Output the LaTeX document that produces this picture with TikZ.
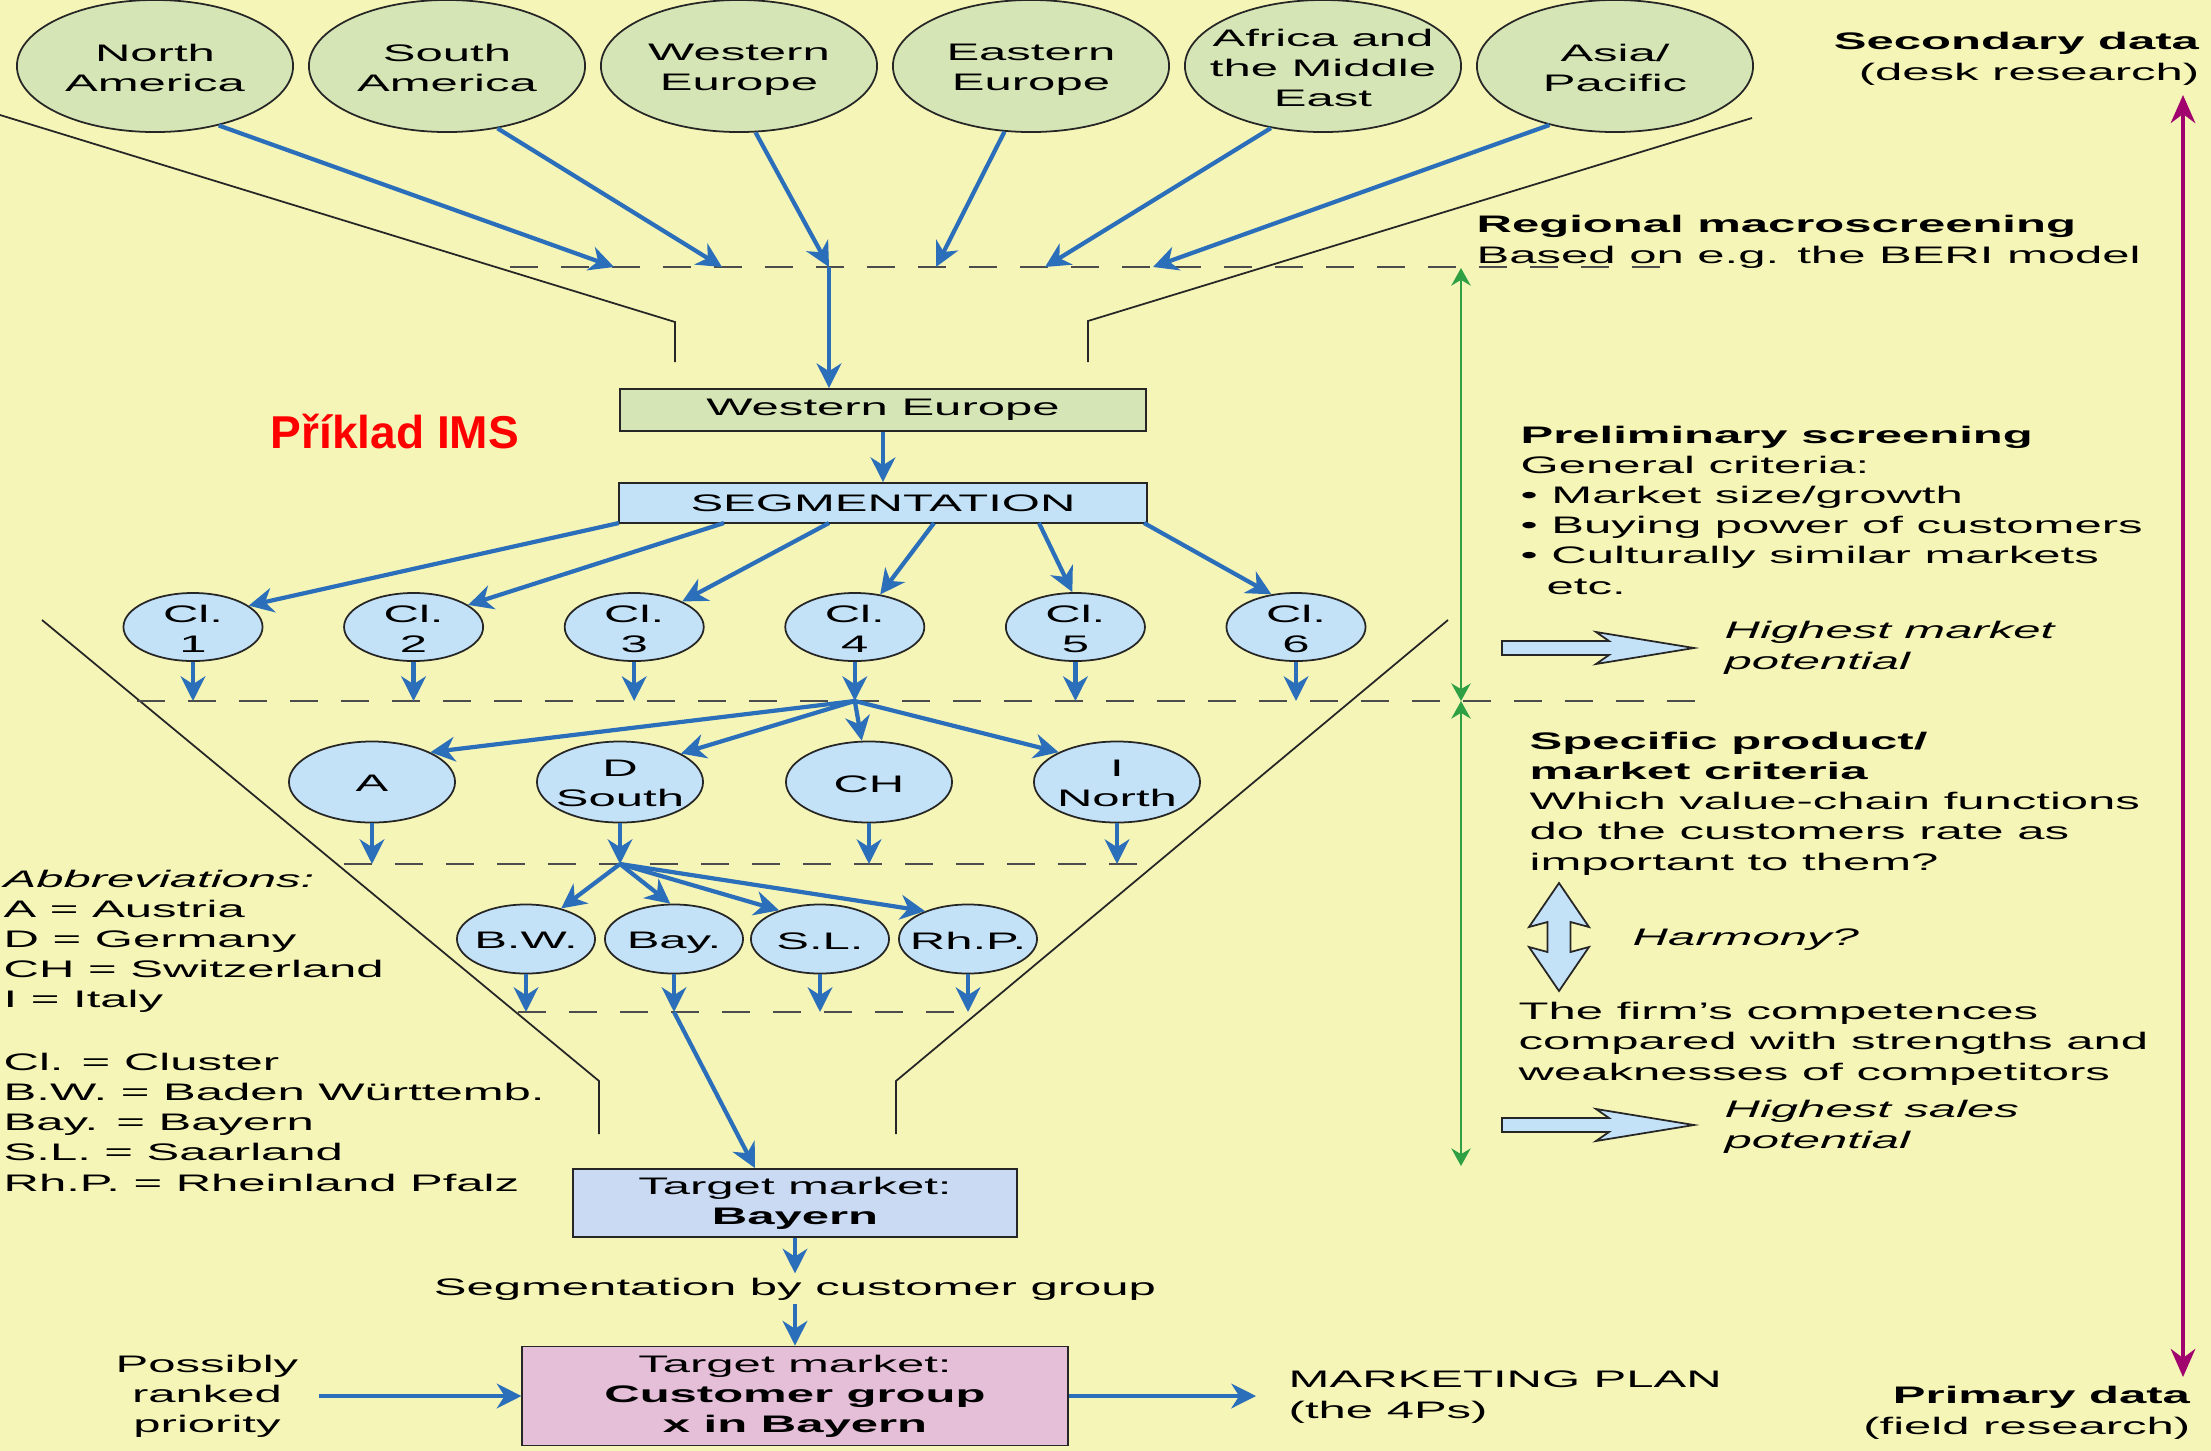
\documentclass[tikz,border=0pt]{standalone}
\usepackage{fontspec}
\setmainfont{Liberation Sans}[FakeStretch=2.05]
\newfontfamily\imsfont{Liberation Sans}
\usetikzlibrary{arrows.meta, shapes.geometric}

\definecolor{bgyellow}{RGB}{246,245,184}
\definecolor{regiongreen}{RGB}{214,229,181}
\definecolor{segblue}{RGB}{196,226,247}
\definecolor{targetblue}{RGB}{201,218,242}
\definecolor{planpink}{RGB}{229,190,216}
\definecolor{flowblue}{RGB}{43,111,186}
\definecolor{critgreen}{RGB}{47,160,68}
\definecolor{datamagenta}{RGB}{160,3,110}

\tikzset{
  flow/.style={draw=flowblue, line width=1.2pt, -{Stealth[length=7pt,width=7pt,inset=2.2pt]}},
  screen/.style={draw=black!70, line width=0.6pt, dash pattern=on 8pt off 6.5pt},
  funnel/.style={draw=black!85, line width=0.5pt},
  oval/.style={ellipse, draw=black!85, line width=0.5pt, inner sep=0pt, label={[align=center, yshift=-1.2pt]center:#1\vphantom{y}}},
  region/.style={oval=#1, fill=regiongreen, minimum width=2.76cm, minimum height=1.32cm},
  cluster/.style={oval=#1, fill=segblue, minimum width=1.39cm, minimum height=0.68cm},
  country/.style={oval=#1, fill=segblue, minimum width=1.66cm, minimum height=0.81cm},
  land/.style={oval=#1, fill=segblue, minimum width=1.38cm, minimum height=0.69cm},
  selbox/.style={rectangle, draw=black!85, line width=0.5pt, inner sep=0pt, align=center},
  note/.style={inner sep=0pt, align=left, anchor=base west},
  fatarrow/.style={draw=black!85, line width=0.5pt, fill=segblue},
  critarrow/.style={draw=critgreen, line width=0.7pt, {Stealth[length=5pt,width=5.5pt]}-{Stealth[length=5pt,width=5.5pt]}},
  dataarrow/.style={draw=datamagenta, line width=1pt, {Stealth[length=8pt,width=7pt]}-{Stealth[length=8pt,width=7pt]}}
}

\begin{document}
\begin{tikzpicture}[x=0.01cm, y=-0.01cm, font=\fontsize{6.8pt}{8.54pt}\selectfont]
        \useasboundingbox (0,0) rectangle (2211,1451);
        \fill[bgyellow] (0,0) rectangle (2211,1451);

        % funnel
        \draw[funnel] (0,115) -- (675,322) -- (675,362);
        \draw[funnel] (1752,118) -- (1088,321) -- (1088,362);
        \draw[funnel] (42,620) -- (599,1081) -- (599,1134);
        \draw[funnel] (1448,620) -- (896,1081) -- (896,1134);

        % regions
        \node[region={North\\America}] (na) at (155,66) {};
        \node[region={South\\America}] (sa) at (447,66) {};
        \node[region={Western\\Europe}] (we) at (739,66) {};
        \node[region={Eastern\\Europe}] (ee) at (1031,66) {};
        \node[region={Africa and\\the Middle\\East}] (af) at (1323,66) {};
        \node[region={Asia/\\Pacific}] (ap) at (1615,66) {};

        \draw[screen] (510,267) -- (1664,267);
        \foreach \x [count=\i] in {614,722,829,936,1045,1153}
            \coordinate (m\i) at (\x,267);
        \draw[flow] (na.-43) -- (m1);
        \draw[flow] (sa.-51) -- (m2);
        \draw[flow] (we.-76) -- (m3);
        \draw[flow] (ee.-112) -- (m4);
        \draw[flow] (af.-130) -- (m5);
        \draw[flow] (ap.-138) -- (m6);

        \node[selbox, fill=regiongreen, minimum width=5.26cm, minimum height=0.42cm] (webox) at (883,410) {Western Europe};
        \node[selbox, fill=segblue, minimum width=5.27cm, minimum height=0.40cm] (seg) at (883,503) {SEGMENTATION};
        \draw[flow] (m3) -- (m3 |- webox.north);
        \draw[flow] (webox) -- (seg);

        \node[anchor=base west, inner sep=0pt, text=red, font=\imsfont\bfseries\fontsize{13.1pt}{15pt}\selectfont] (ims) at (270,448) {Příklad IMS};

        % clusters
        \coordinate (dash2) at (0,701);
        \draw[screen] (137,701) -- (1697,701);
        \foreach \i/\a in {1/21,2/22,3/28,4/52,5/95,6/127} {
            \node[cluster={Cl.\\\i}] (c\i) at ({193+220.6*(\i-1)},627) {};
            \coordinate (s\i) at ({619+105*(\i-1)},523);
            \coordinate (k\i) at (c\i |- dash2);
            \draw[flow] (s\i) -- (c\i.\a);
            \draw[flow] (c\i) -- (k\i);
        }

        % countries
        \node[country=A] (ca) at (372,782) {};
        \node[country={D\\South}] (cd) at (620,782) {};
        \node[country=CH] (cch) at (869,782) {};
        \node[country={I\\North}] (cit) at (1117,782) {};
        \draw[flow] (k4) -- (ca.27);
        \draw[flow] (k4) -- (cd.25);
        \draw[flow] (k4) -- (cch);
        \draw[flow] (k4) -- (cit.153);

        \coordinate (dash3) at (0,864);
        \draw[screen] (344,864) -- (1155,864);
        \foreach \n [count=\i] in {ca,cd,cch,cit} {
            \coordinate (e\i) at (\n |- dash3);
            \draw[flow] (\n) -- (e\i);
        }

        % states
        \foreach \n/\x/\t in {bw/526/B.W., bay/674/Bay., sl/820/S.L., rhp/968/Rh.P.}
            \node[land=\t] (\n) at (\x,939) {};
        \draw[flow] (e2) -- (bw.41);
        \draw[flow] (e2) -- (bay.96);
        \draw[flow] (e2) -- (sl.145);
        \draw[flow] (e2) -- (rhp.147);

        \coordinate (dash4) at (0,1012);
        \draw[screen] (518,1012) -- (974,1012);
        \foreach \n [count=\i] in {bw,bay,sl,rhp} {
            \coordinate (f\i) at (\n |- dash4);
            \draw[flow] (\n) -- (f\i);
        }

        % target markets
        \node[selbox, fill=targetblue, minimum width=4.43cm, minimum height=0.68cm] (tbox) at (795,1203) {Target market:\\\textbf{Bayern}};
        \node[inner sep=1pt, anchor=base] (segc) at (795,1295) {Segmentation by customer group};
        \node[selbox, fill=planpink, minimum width=5.45cm, minimum height=0.99cm] (pbox) at (795,1396) {Target market:\\\textbf{Customer group}\\\textbf{x in Bayern}};
        \draw[flow] (f2) -- ([xshift=-0.4cm]tbox.north);
        \draw[flow] (tbox) -- (segc);
        \draw[flow] (segc) -- (pbox);

        \node[align=center, inner xsep=0.2cm, inner ysep=0pt] (prio) at (207,1396) {Possibly\\ranked\\priority};
        \node[note, inner xsep=0.32cm] (mplan) at (1256,1418) {MARKETING PLAN\\(the 4Ps)};
        \draw[flow] (prio.east |- pbox.west) -- (pbox.west);
        \draw[flow] (pbox.east) -- (pbox.east -| mplan.west);

        \node[note] (abbr) at (3,1191) {\textit{Abbreviations:}\\A = Austria\\D = Germany\\CH = Switzerland\\I = Italy\\[9.4pt]Cl. = Cluster\\B.W. = Baden Württemb.\\Bay. = Bayern\\S.L. = Saarland\\Rh.P. = Rheinland Pfalz};

        % right column
        \node[note, anchor=base east, align=right] (sec) at (2200,80) {\textbf{Secondary data}\\(desk research)};
        \node[note, anchor=base east, align=right] (prim) at (2191,1434) {\textbf{Primary data}\\(field research)};
        \coordinate (dtop) at (2183,95);
        \coordinate (dbot) at (2183,1377);
        \draw[dataarrow] (dtop) -- (dbot);

        \coordinate (g1) at (1461,268);
        \coordinate (g2) at (1461,701);
        \coordinate (g3) at (1461,1166);
        \draw[critarrow] (g1) -- (g2);
        \draw[critarrow] (g2) -- (g3);

        \node[note] (macro) at (1476,263) {\textbf{Regional macroscreening}\\Based on e.g. the BERI model};
        \node[note] (prelim) at (1520,594) {\textbf{Preliminary screening}\\General criteria:\\\textbullet\ Market size/growth\\\textbullet\ Buying power of customers\\\textbullet\ Culturally similar markets\\\hspace*{7.4pt}etc.};
        \node[note] (hmp) at (1724,669) {\textit{Highest market}\\\textit{potential}};
        \node[note] (spec) at (1529,870) {\textbf{Specific product/}\\\textbf{market criteria}\\Which value-chain functions\\do the customers rate as\\important to them?};
        \node[note] (harm) at (1632,945) {\textit{Harmony?}};
        \node[note] (firm) at (1518,1080) {The firm’s competences\\compared with strengths and\\weaknesses of competitors};
        \node[note] (hsp) at (1724,1148) {\textit{Highest sales}\\\textit{potential}};

        \foreach \y in {648,1125}
            \filldraw[fatarrow] (1502,\y-7) -- (1609,\y-7) -- (1596,\y-16) -- (1694,\y) -- (1596,\y+16) -- (1609,\y+7) -- (1502,\y+7) -- cycle;
        \filldraw[fatarrow] (1559,883) -- (1589,927) -- (1570.5,922) -- (1570.5,952) -- (1589,947) -- (1559,991) -- (1529,947) -- (1547.5,952) -- (1547.5,922) -- (1529,927) -- cycle;

    \end{tikzpicture}
\end{document}
